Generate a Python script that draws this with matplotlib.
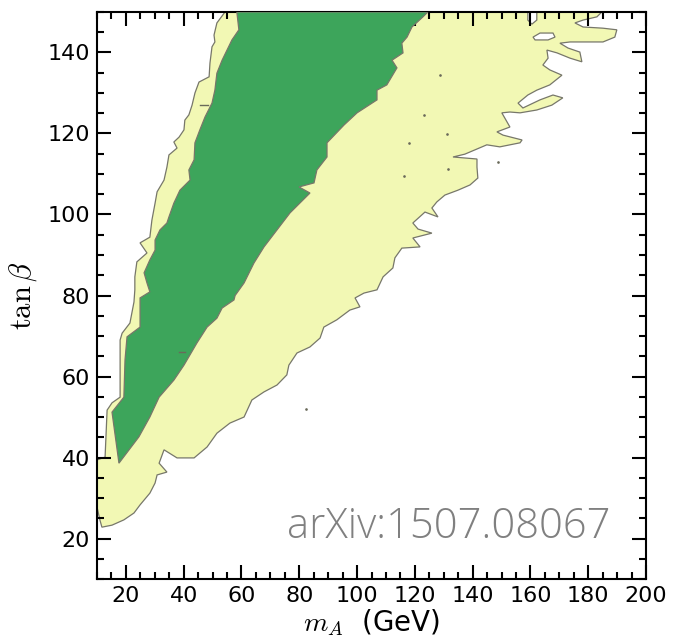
import matplotlib

matplotlib.use("Agg")

import matplotlib.pyplot as plt
from matplotlib.ticker import MultipleLocator

# outer (light) allowed region, traced clockwise from the left spine
yellow_x = [
    10, 10, 11.0, 11.7, 15.2, 19.3, 22.8, 24.9, 28.3, 30.1, 30.8, 34.2, 31.5, 33.2,
    37.7, 43.6, 48.1, 51.5, 56.0, 60.9, 63.6, 67.8, 72.3, 75.7, 76.4, 79.2, 83.7,
    87.2, 88.5, 93.0, 97.5, 101.0, 99.3, 102.4, 106.9, 109.0, 112.4, 113.1, 115.5,
    121.8, 119.3, 125.9, 121.1, 119.3, 123.5, 128.0, 125.9, 127.6, 130.4, 134.9,
    139.1, 141.8, 141.5, 141.5, 133.2, 137.3, 144.9, 149.4, 156.4, 157.1, 150.5,
    148.4, 152.9, 150.1, 152.9, 156.4, 162.2, 167.4, 171.2, 167.8, 163.3, 157.4,
    155.7, 159.1, 162.2, 166.7, 170.9, 166.7, 164.3, 166.1, 165.7, 169.2, 173.7,
    177.8, 177.1, 173.0, 170.2, 173.7, 180.6, 185.1, 189.2, 189.9, 185.1, 178.2,
    175.4, 178.2, 183.0, 184.7, 162.2, 162.2, 160.5, 159.1, 159.1, 54.3, 51.5,
    50.5, 50.8, 49.8, 49.1, 48.8, 45.3, 43.9, 42.9, 41.8, 40.4, 40.1, 38.4, 36.6,
    37.7, 34.9, 34.2, 33.2, 30.8, 30.1, 29.0, 28.3, 24.9, 27.3, 23.8, 23.1, 23.1,
    22.8, 21.4, 18.7, 18.0, 18.0, 15.2, 13.5, 12.8,
]
yellow_y = [
    39.4, 27.8, 24.6, 22.8, 23.3, 24.6, 26.3, 28.3, 31.2, 33.7, 35.7, 36.4, 38.6, 41.9,
    39.9, 39.9, 42.6, 46.0, 48.5, 50.0, 54.2, 56.2, 57.9, 60.4, 62.8, 65.8, 67.3,
    69.5, 72.2, 74.0, 76.4, 77.2, 79.4, 80.6, 81.4, 84.6, 86.8, 89.3, 91.7,
    92.0, 94.2, 95.4, 96.4, 97.9, 100.6, 99.4, 101.6, 103.1, 104.8, 106.0,
    107.3, 109.0, 111.7, 113.7, 114.2, 114.9, 117.2, 116.7, 117.7, 118.4, 119.6,
    120.4, 121.6, 125.1, 125.3, 125.1, 125.8, 127.0, 128.8, 129.5, 128.3, 126.3,
    127.5, 129.5, 130.7, 132.0, 134.4, 135.7, 136.9, 138.6, 140.6, 139.9, 138.6,
    137.7, 140.1, 141.1, 142.3, 142.6, 142.6, 142.6, 143.8, 145.6, 146.0, 146.3,
    147.3, 148.0, 148.8, 150, 150, 148.0, 147.0, 148.0, 150, 150, 147.3,
    144.3, 142.6, 141.4, 137.4, 134.0, 132.7, 130.0, 127.0, 124.6, 123.3, 120.9, 119.1, 117.9,
    116.4, 114.7, 111.7, 108.5, 105.6, 102.8, 98.6, 94.4, 93.0, 90.5, 88.3, 84.6, 81.4,
    78.4, 73.2, 70.7, 69.0, 54.9, 53.5, 51.7, 40.1,
]

# white hole inside the light region
hole_x = [160.9, 163.3, 167.8, 168.5, 166.1, 161.6]
hole_y = [143.8, 144.8, 144.8, 143.8, 143.1, 143.1]

# inner (dark green) region
green_x = [
    58.4, 59.1, 56.7, 55.0, 53.3, 51.5, 50.8, 49.8, 47.4, 45.6, 43.9, 43.6, 41.8, 42.2,
    38.7, 36.6, 34.9, 34.2, 31.8, 30.1, 30.1, 28.3, 26.3, 27.3, 28.3, 24.9, 24.9,
    20.4, 19.7, 19.3, 15.2, 17.6, 24.5, 28.3, 31.5, 36.6, 40.1, 44.6, 48.1, 51.5,
    53.3, 57.4, 57.8, 60.9, 64.3, 67.8, 72.3, 76.8, 83.7, 79.9, 85.1, 86.1, 89.6,
    89.6, 95.5, 100.0, 106.9, 106.9, 110.3, 113.8, 112.1, 115.9, 115.5, 117.3,
    119.0, 122.8, 124.5,
]
green_y = [
    150, 145.6, 143.1, 140.6, 138.1, 134.9, 130.7, 127.5, 124.1, 120.9, 117.7, 113.5, 111.0, 108.5,
    106.0, 102.8, 99.4, 97.9, 96.2, 93.7, 91.2, 88.8, 85.6, 83.1, 80.9, 79.4, 72.2,
    69.8, 64.1, 54.9, 51.2, 38.6, 45.1, 50.0, 54.9, 59.1, 62.8, 68.3, 72.2, 74.4,
    76.9, 78.9, 80.0, 83.1, 88.0, 92.0, 96.2, 100.4, 105.3, 106.8, 107.8, 111.0, 114.2,
    117.7, 122.1, 125.1, 128.3, 130.7, 132.0, 136.2, 138.1, 139.9, 142.3, 143.8,
    146.3, 148.8, 150,
]

# tiny stray contour marks
dash_x = [[45.7, 48.4], [38.5, 40.5]]
dash_y = [[127.0, 127.0], [66.0, 66.0]]
dot_x = [128.6, 123.0, 118.0, 131.0, 131.3, 116.4, 148.7, 82.2]
dot_y = [134.5, 124.6, 117.6, 119.8, 111.3, 109.5, 113.0, 52.1]

xticks = [20, 40, 60, 80, 100, 120, 140, 160, 180, 200]
yticks = [20, 40, 60, 80, 100, 120, 140]

plt.rcParams["mathtext.fontset"] = "cm"

fig = plt.figure(figsize=(6.74, 6.41), dpi=100)
ax = fig.add_axes([0.1439, 0.0967, 0.8146, 0.8846])

edge = "#77776a"
ax.fill(yellow_x, yellow_y, facecolor="#f2f8b4", edgecolor=edge, linewidth=0.9, zorder=1)
ax.fill(hole_x, hole_y, facecolor="white", edgecolor=edge, linewidth=0.9, zorder=2)
ax.fill(green_x, green_y, facecolor="#3da55b", edgecolor=edge, linewidth=0.9, zorder=3)
for xs, ys in zip(dash_x, dash_y):
    ax.plot(xs, ys, color="#6a6a5a", linewidth=1.0, zorder=4)
ax.plot(dot_x, dot_y, linestyle="none", marker="o", markersize=0.9, color="#6a6a5a", zorder=4)

ax.set_xlim(10, 200)
ax.set_ylim(10, 150)
ax.set_xticks(xticks)
ax.set_yticks(yticks)
ax.xaxis.set_minor_locator(MultipleLocator(5))
ax.yaxis.set_minor_locator(MultipleLocator(5))
ax.tick_params(which="both", direction="in", top=True, right=True, labelsize=16, width=1.5)
ax.tick_params(which="major", length=10, pad=5)
ax.tick_params(which="minor", length=5)
for sp in ax.spines.values():
    sp.set_linewidth(1.5)

ax.set_xlabel(r"$m_A$  (GeV)", fontsize=20, labelpad=1)
ax.set_ylabel(r"$\tan\beta$", fontsize=22, labelpad=6)

ax.text(75.7, 20.1, "arXiv:1507.08067", color="#808080", fontsize=30, fontweight="light",
        family=["Open Sans", "DejaVu Sans"], ha="left", va="baseline", zorder=5)

fig.savefig("out.png", dpi=100)
